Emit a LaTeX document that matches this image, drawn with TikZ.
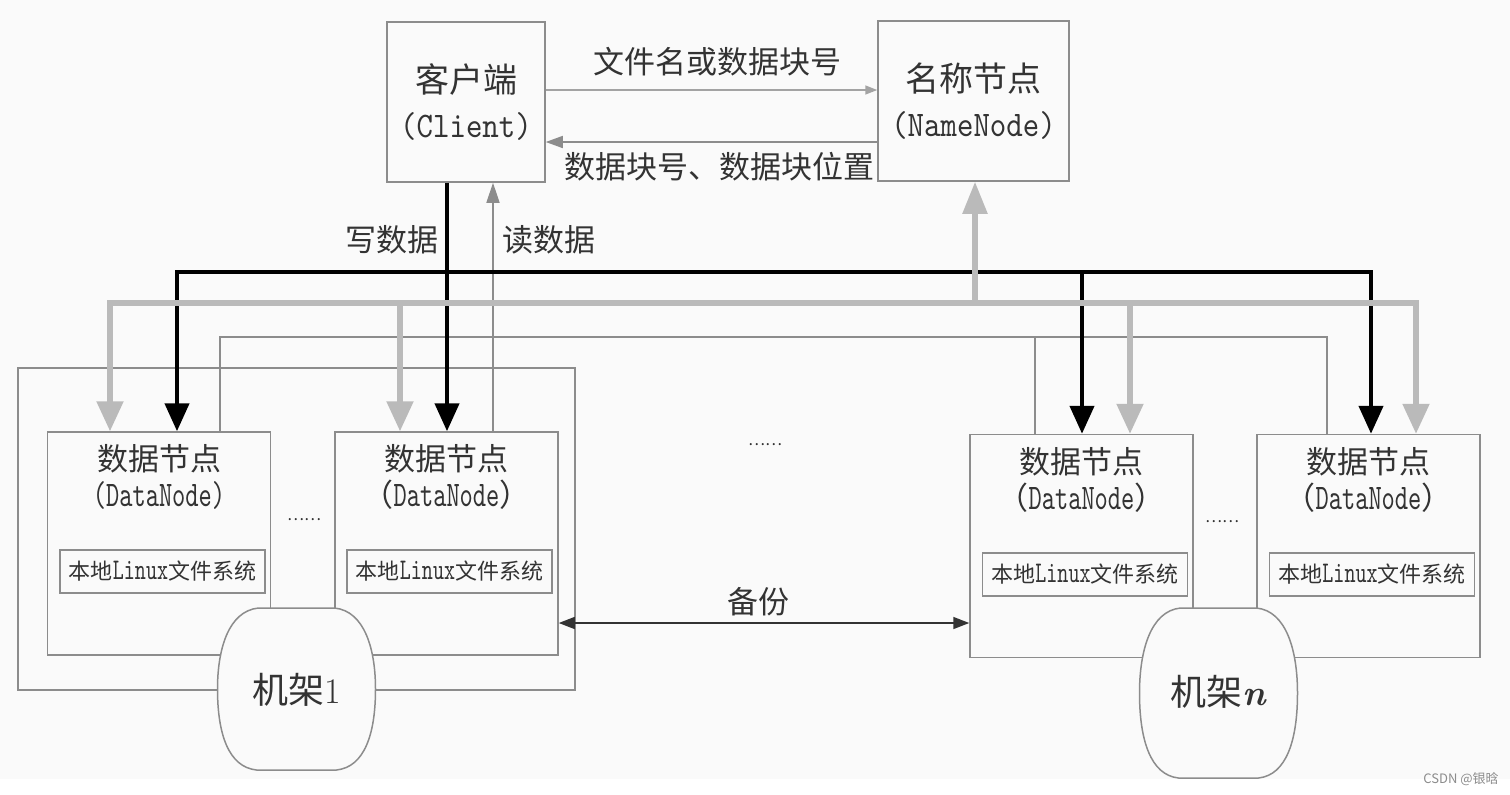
\documentclass[tikz,border=0pt]{standalone}
\usepackage{fontspec}
\newfontfamily\cjk{Noto Sans CJK SC}
\newfontfamily\narrowtt[FakeStretch=0.7]{lmmono10-regular.otf}
\newfontfamily\toptt[FakeStretch=0.87]{lmmono10-regular.otf}
\usetikzlibrary{arrows.meta,calc}
\definecolor{bg}{HTML}{FAFAFA}
\definecolor{boxgray}{HTML}{8C8C8C}
\definecolor{busgray}{HTML}{BABABA}
\definecolor{txt}{HTML}{333333}
\newcommand\dnlabel{{\cjk 数据节点}\\{\cjk （}{\narrowtt\fontsize{18}{18}\selectfont DataNode}{\cjk ）}}
\newcommand\fslabel{本地{\narrowtt\fontsize{15}{15}\selectfont Linux}文件系统}
\tikzset{
  box/.style={draw=boxgray, line width=0.75pt, inner sep=0pt},
  blk/.style={draw=black, line width=2.2pt, line join=miter},
  gry/.style={draw=busgray, line width=2.6pt, line join=miter},
  btip/.tip={Triangle[width=12pt,length=14pt]},
  gtip/.tip={Triangle[width=13pt,length=15pt]},
  thinline/.style={draw=boxgray, line width=0.75pt},
  lbl/.style={text=txt, inner sep=0pt, font=\cjk\fontsize{15.5}{17}\selectfont},
  dntext/.style={text=txt, inner sep=0pt, align=center, font=\fontsize{15.5}{18}\selectfont},
  topbox/.style={box, minimum height=80pt, align=center, text=txt, font=\fontsize{16}{22.5}\selectfont},
  fsbox/.style={box, minimum width=102.5pt, minimum height=21.5pt, text=txt, font=\cjk\fontsize{11}{12}\selectfont},
  dnbox/.style={box, minimum width=111.5pt, minimum height=111.5pt},
  dots/.style={text=txt, inner sep=0pt, font=\cjk\fontsize{8}{8}\selectfont},
}
\begin{document}
\begin{tikzpicture}[x=0.5pt, y=-0.5pt]
\fill[white] (0,0) rectangle (1510,794);
\fill[bg] (0,0) rectangle (1510,779);
\useasboundingbox (0,0) rectangle (1510,794);

% top nodes
\node[topbox, minimum width=79pt] (client) at (466,102)
  {{\cjk\fontsize{17}{22.5}\selectfont 客户端}\\{\toptt\fontsize{18}{22.5}\selectfont (Client)}};
\node[topbox, minimum width=95.5pt] (namenode) at (973.5,101)
  {{\cjk\fontsize{17}{22.5}\selectfont 名称节点}\\{\toptt\fontsize{18}{22.5}\selectfont (NameNode)}};

\draw[thinline, -{Triangle[width=4.5pt,length=6pt]}, draw=boxgray!80] ($(client.east)+(0,-12)$) -- ($(namenode.west |- client.east)+(0,-12)$);
\draw[thinline, -{Triangle[width=6pt,length=8.5pt]}] ($(namenode.west |- client.east)+(0,40)$) -- ($(client.east)+(0,40)$);
\node[lbl] (l1) at (717,62) {文件名或数据块号};
\node[lbl] (l2) at (719,167) {数据块号、数据块位置};

% rack 1 frame
\node[box, minimum width=278.5pt, minimum height=161pt] (rack1box) at (296.5,529) {};

% data nodes
\node[dnbox] (dn1) at (159,543.5) {};
\node[dnbox] (dn2) at (446.5,543.5) {};
\node[dnbox] (dn3) at (1081.5,546) {};
\node[dnbox] (dn4) at (1368.5,546) {};

\node[dntext] (dn1t) at ($(dn1.north)+(0,46)$) {{\cjk 数据节点}\\{\narrowtt\fontsize{18}{18}\selectfont (DataNode)}};
\node[dntext] (dn2t) at ($(dn2.north)+(0,46)$) {\dnlabel};
\node[dntext] (dn3t) at ($(dn3.north)+(0,46)$) {\dnlabel};
\node[dntext] (dn4t) at ($(dn4.north)+(0,46)$) {\dnlabel};

\node[fsbox] (fs1) at (162.5,571.5) {\fslabel};
\node[fsbox] (fs2) at (449.5,571.5) {\fslabel};
\node[fsbox] (fs3) at (1085,574.5) {\fslabel};
\node[fsbox] (fs4) at (1372,574.5) {\fslabel};

\node[dots] (d1) at (304,520) {……};
\node[dots] (d2) at (1222,522) {……};
\node[dots] (d3) at (765,445) {……};

% thin read paths
\coordinate (tA) at (220,337);
\coordinate (tB) at (1327,337);
\coordinate (tC) at (1035,337);
\draw[thinline] (tA |- dn1.north) -- (tA) -- (tB) -- (tB |- dn4.north);
\draw[thinline] (tC) -- (tC |- dn3.north);
\coordinate (r) at (493,300);
\draw[thinline, -{Triangle[width=6.5pt,length=10pt]}] (r |- dn2.north) -- (r |- client.south);

% black write bus
\coordinate (bA) at (177,272);
\coordinate (bB) at (1371,272);
\coordinate (bC) at (1082,272);
\coordinate (w) at (447,272);
\draw[blk, {btip}-{btip}] (bA |- dn1.north) -- (bA) -- (bB) -- (bB |- dn4.north);
\draw[blk, -{btip}] (bC) -- (bC |- dn3.north);
\draw[blk, -{btip}] (w |- client.south) -- (w |- dn2.north);

% gray bus
\coordinate (gA) at (110,303);
\coordinate (gB) at (1416,303);
\coordinate (g2) at (400,303);
\coordinate (g3) at (1130,303);
\coordinate (gN) at (975,303);
\draw[gry, {gtip}-{gtip}] (gA |- dn1.north) -- (gA) -- (gB) -- (gB |- dn4.north);
\draw[gry, -{gtip}] (g2) -- (g2 |- dn2.north);
\draw[gry, -{gtip}] (g3) -- (g3 |- dn3.north);
\draw[gry, -{Triangle[width=12pt,length=16pt]}] (gN) -- (gN |- namenode.south);

\node[lbl] (wl) at (392,240) {写数据};
\node[lbl] (rl) at (549,240) {读数据};

% backup
\coordinate (by) at (760,623);
\draw[draw=txt, line width=0.75pt, {Triangle[width=6pt,length=8pt]}-{Triangle[width=6pt,length=8pt]}] (dn2.east |- by) -- (dn3.west |- by);
\node[lbl] (bl) at (758,602) {备份};

% racks
\begin{scope}[shift={(296.5,689)}]
\filldraw[fill=bg, draw=boxgray, line width=0.75pt]
 (-38,-81) -- (38,-81) .. controls (68,-78) and (79,-40) .. (79,0) .. controls (79,45) and (68,78) .. (40,81) -- (-40,81) .. controls (-68,78) and (-79,45) .. (-79,0) .. controls (-79,-40) and (-68,-78) .. cycle;
\end{scope}
\node[text=txt, inner sep=0pt] (rack1) at (296.5,690) {{\cjk\fontsize{18}{20}\selectfont 机架}{\fontsize{18}{20}\selectfont 1}};
\begin{scope}[shift={(1218.5,693)}]
\filldraw[fill=bg, draw=boxgray, line width=0.75pt]
 (-38,-85) -- (38,-85) .. controls (68,-82) and (79,-42) .. (79,0) .. controls (79,47) and (68,82) .. (40,85) -- (-40,85) .. controls (-68,82) and (-79,47) .. (-79,0) .. controls (-79,-42) and (-68,-82) .. cycle;
\end{scope}
\node[text=txt, inner sep=0pt] (rackn) at (1218.5,692) {{\cjk\fontsize{18}{20}\selectfont 机架}{\fontsize{18}{20}\selectfont\bfseries\itshape n}};

\node[text=black!45, inner sep=0pt, font=\cjk\fontsize{6.5}{7}\selectfont] (wm) at (1461,779) {CSDN @银晗};
\end{tikzpicture}
\end{document}
